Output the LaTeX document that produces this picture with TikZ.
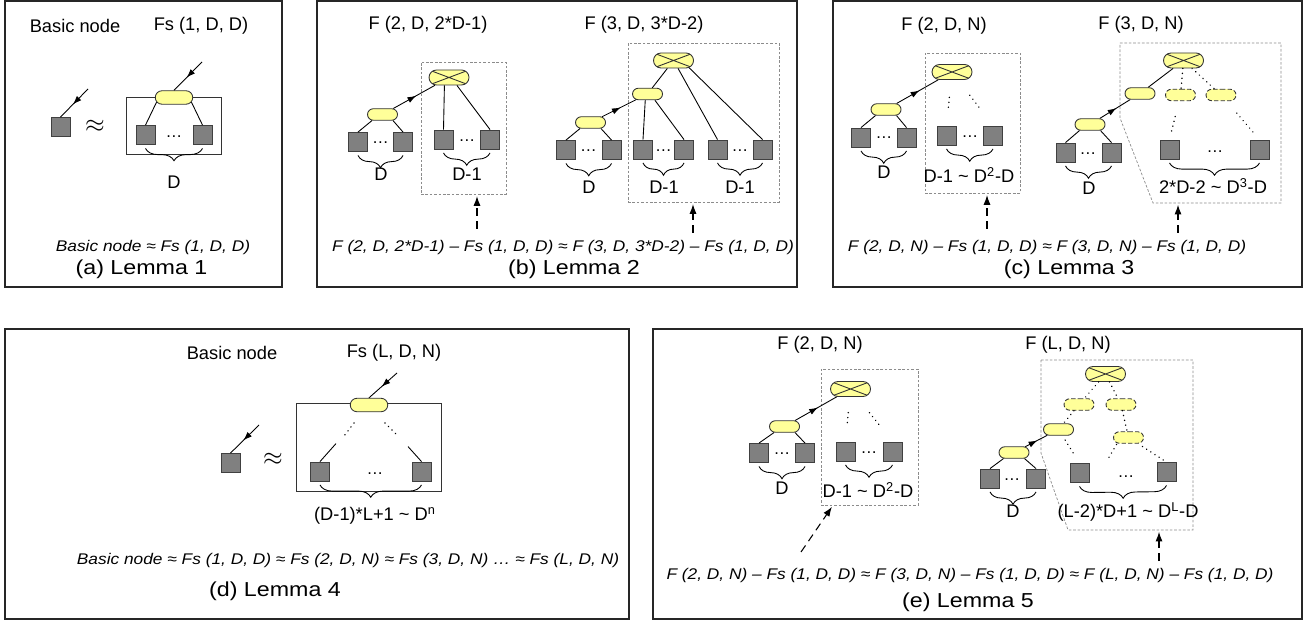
\documentclass[tikz,border=0pt]{standalone}
\usepackage{fontspec}
\setmainfont{Liberation Sans}
\newfontfamily\capfont[FakeStretch=1.15]{Liberation Sans}
\newfontfamily\eqfont[FakeStretch=1.12]{Liberation Sans}
\usepackage{tikz}
\usetikzlibrary{positioning}
\usetikzlibrary{arrows.meta}
\usetikzlibrary{shapes.misc}
\usetikzlibrary{decorations.pathreplacing,decorations.markings}
\usetikzlibrary{fit}
\definecolor{pillyellow}{RGB}{255,255,153}
\definecolor{leafgray}{RGB}{128,128,128}
\tikzset{
  leaf/.style={draw=black!75, fill=leafgray, minimum size=0.38cm, inner sep=0pt},
  pill/.style={rounded rectangle, draw=black!80, fill=pillyellow, minimum width=0.6cm, minimum height=0.23cm, inner sep=0pt},
  bigpill/.style={pill, minimum width=0.75cm, minimum height=0.27cm},
  xpill/.style={pill, minimum width=0.8cm, minimum height=0.3cm,
    path picture={\draw[black!80] (path picture bounding box.north west) -- (path picture bounding box.south east)
      (path picture bounding box.south west) -- (path picture bounding box.north east);}},
  dpill/.style={pill, dash pattern=on 2.5pt off 1.2pt},
  panel/.style={draw=black!85, line width=1pt},
  dbox/.style={draw=black!45, dash pattern=on 1.5pt off 1pt, line width=0.4pt, inner sep=0pt},
  dotln/.style={line width=0.9pt, dash pattern=on 0.01pt off 2.8pt, line cap=round},
  brc/.style={decorate, decoration={brace, mirror, amplitude=7pt}},
  midarr/.style={postaction={decorate}, decoration={markings, mark=at position 0.55 with {\arrow{Latex[length=5pt,width=3.5pt]}}}},
  darr/.style={line width=0.6pt, dash pattern=on 4.5pt off 3pt, -{Latex[length=5.5pt,width=4pt]}, shorten >=1pt},
  lbl/.style={font=\fontsize{10.4}{12}\selectfont},
  dts/.style={font=\fontsize{9.5}{10}\selectfont, inner sep=0pt},
  eqn/.style={font=\eqfont\itshape\fontsize{8.8}{10}\selectfont},
  capn/.style={font=\capfont\fontsize{11.5}{13}\selectfont},
}
\begin{document}
\begin{tikzpicture}[x=0.02cm, y=-0.02cm, line width=0.5pt]
\useasboundingbox (0,0) rectangle (1307,621);
% panels
\draw[panel] (5,1) rectangle (282,287);
\draw[panel] (317,1) rectangle (797,287);
\draw[panel] (833,1) rectangle (1302,287);
\draw[panel] (5,329) rectangle (629,619);
\draw[panel] (653,329) rectangle (1302,619);

% (a) Lemma 1
\node[lbl] (abas) at (75,26) {Basic node};
\node[lbl] (afs) at (201,26) {Fs (1, D, D)};
\node[leaf] (abn) at (60.5,127) {};
\coordinate (abnin) at (88,89);
\draw[midarr] (abnin) -- (abn.north);
\node (aapx) at (95,126) {\fontsize{15}{15}\selectfont$\approx$};
\draw[black!80] (126,97) rectangle (221,154);
\node[bigpill] (ar) at (174,97.5) {};
\coordinate (arin) at (202,62);
\draw[midarr] (arin) -- (ar.north);
\node[leaf] (a1) at (145.5,135) {};
\node[leaf] (a2) at (202.5,135) {};
\node[dts] (adt) at (174,137) {…};
\draw (ar.195) -- (a1.north);
\draw (ar.345) -- (a2.north);
\draw[brc] ([yshift=-2pt]a1.south) -- ([yshift=-2pt]a2.south);
\node[lbl] (aD) at (174,182) {D};
\node[eqn] (aeq) at (153,247) {Basic node ≈ Fs (1, D, D)};
\node[capn] (acap) at (141.5,269) {(a) Lemma 1};

% (b) Lemma 2
\node[lbl] (bt1) at (428,25) {F (2, D, 2*D-1)};
\node[lbl] (bt2) at (644,25) {F (3, D, 3*D-2)};
\node[dbox, fit={(421,62) (506,194)}] (bbox1) {};
\node[xpill] (bx1) at (449,77.5) {};
\node[pill] (bp1) at (382.5,114.5) {};
\draw[midarr] (bp1) -- (bx1);
\node[leaf] (b1) at (358,142) {};
\node[leaf] (b2) at (403,142) {};
\node[dts] (bdt1) at (380.5,143) {…};
\draw (bp1.210) -- (b1.north);
\draw (bp1.330) -- (b2.north);
\draw[brc] ([yshift=-2pt]b1.south) -- ([yshift=-2pt]b2.south);
\node[lbl] (bD1) at (381,174) {D};
\node[leaf] (b3) at (443.5,139.5) {};
\node[leaf] (b4) at (490,139.5) {};
\node[dts] (bdt2) at (467,141) {…};
\draw (bx1.240) -- (b3.north);
\draw (bx1.315) -- (b4.north);
\draw[brc] ([yshift=-2pt]b3.south) -- ([yshift=-2pt]b4.south);
\node[lbl] (bD2) at (467,174) {D-1};

\node[dbox, fit={(628,43) (779,202)}] (bbox2) {};
\node[xpill] (bx2) at (673.5,60.5) {};
\node[pill] (bm2) at (647.5,94) {};
\node[pill] (bp2) at (590.5,122.5) {};
\draw[midarr] (bp2) -- (bm2);
\draw (bm2) -- (bx2);
\node[leaf] (b5) at (566,150) {};
\node[leaf] (b6) at (611.5,150) {};
\node[leaf] (b7) at (643,149.5) {};
\node[leaf] (b8) at (684,149.5) {};
\node[leaf] (b9) at (717.5,149.5) {};
\node[leaf] (b10) at (762.5,149.5) {};
\node[dts] (bdt3) at (588.5,151) {…};
\node[dts] (bdt4) at (663.5,151) {…};
\node[dts] (bdt5) at (740,151) {…};
\draw (bp2.210) -- (b5.north);
\draw (bp2.330) -- (b6.north);
\draw (bm2.250) -- (b7.north);
\draw (bm2.320) -- (b8.north);
\draw (bx2.300) -- (b9.north);
\draw (bx2.335) -- (b10.north);
\foreach \l/\r in {b5/b6,b7/b8,b9/b10}
  \draw[brc] ([yshift=-2pt]\l.south) -- ([yshift=-2pt]\r.south);
\node[lbl] (bD3) at (589,187) {D};
\node[lbl] (bD4) at (664,187) {D-1};
\node[lbl] (bD5) at (740,187) {D-1};
\node[eqn] (beq) at (563,247) {F (2, D, 2*D-1) – Fs (1, D, D) ≈ F (3, D, 3*D-2) – Fs (1, D, D)};
\coordinate (bq1) at (477,229);
\coordinate (bq2) at (693,233);
\draw[darr] (bq1) -- (bq1 |- bbox1.south);
\draw[darr] (bq2) -- (bq2 |- bbox2.south);
\node[capn] (bcap) at (574,269) {(b) Lemma 2};

% (c) Lemma 3
\node[lbl] (ct1) at (944,26) {F (2, D, N)};
\node[lbl] (ct2) at (1141,25) {F (3, D, N)};
\node[dbox, fit={(925,53) (1020,193)}] (cbox1) {};
\node[xpill] (cx1) at (952,72) {};
\node[pill] (cp1) at (886,109.5) {};
\draw[midarr] (cp1) -- (cx1);
\node[leaf] (c1) at (861,137.5) {};
\node[leaf] (c2) at (906.5,137.5) {};
\node[dts] (cdt1) at (884,138) {…};
\draw (cp1.210) -- (c1.north);
\draw (cp1.330) -- (c2.north);
\draw[brc] ([yshift=-2pt]c1.south) -- ([yshift=-2pt]c2.south);
\node[lbl] (cD1) at (884,172) {D};
\node[leaf] (c3) at (946.5,135.5) {};
\node[leaf] (c4) at (993,135.5) {};
\node[dts] (cdt2) at (970,137) {…};
\draw[dotln, shorten <=10pt, shorten >=8pt] (cx1) -- (c3.north);
\draw[dotln, shorten <=11pt, shorten >=12pt] (cx1) -- (c4.north);
\draw[brc] ([yshift=-2pt]c3.south) -- ([yshift=-2pt]c4.south);
\node[lbl] (cD2) at (969,175) {D-1 \textasciitilde{} D\textsuperscript{2}-D};

\coordinate (cpa) at (1120,43);
\coordinate (cpb) at (1281,43);
\coordinate (cpc) at (1281,203);
\coordinate (cpd) at (1153,203);
\coordinate (cpe) at (1120,118);
\draw[dbox] (cpa) -- (cpb) -- (cpc) -- (cpd) -- (cpe) -- cycle;
\node[xpill] (cx2) at (1183.5,60.5) {};
\node[pill] (cm2) at (1140,93.5) {};
\node[dpill] (cd3) at (1180.5,95) {};
\node[dpill] (cd4) at (1221,95) {};
\node[pill] (cp2) at (1090,124.5) {};
\draw[midarr] (cp2) -- (cm2);
\draw (cm2) -- (cx2);
\draw[dotln] (cx2) -- (cd3);
\draw[dotln] (cx2) -- (cd4);
\node[leaf] (c5) at (1065.5,152.5) {};
\node[leaf] (c6) at (1111.5,152.5) {};
\node[dts] (cdt3) at (1088,154) {…};
\draw (cp2.210) -- (c5.north);
\draw (cp2.330) -- (c6.north);
\draw[brc] ([yshift=-2pt]c5.south) -- ([yshift=-2pt]c6.south);
\node[lbl] (cD3) at (1089,188) {D};
\node[leaf] (c7) at (1169.5,149.5) {};
\node[leaf] (c8) at (1259.5,149.5) {};
\node[dts] (cdt4) at (1215,152) {…};
\draw[dotln, shorten <=9pt, shorten >=4pt] (cd3) -- (c7.north);
\draw[dotln, shorten <=9pt, shorten >=4pt] (cd4) -- (c8.north);
\draw[brc] ([yshift=-2pt]c7.south) -- ([yshift=-2pt]c8.south);
\node[lbl] (cD4) at (1213,186) {2*D-2 \textasciitilde{} D\textsuperscript{3}-D};
\node[eqn] (ceq) at (1047,247) {F (2, D, N) – Fs (1, D, D) ≈ F (3, D, N) – Fs (1, D, D)};
\coordinate (cq1) at (987,229);
\coordinate (cq2) at (1178,233);
\draw[darr] (cq1) -- (cq1 |- cbox1.south);
\draw[darr] (cq2) -- (cq2 |- cpd);
\node[capn] (ccap) at (1069,269) {(c) Lemma 3};

% (d) Lemma 4
\node[lbl] (dbas) at (232,353) {Basic node};
\node[lbl] (dfs) at (394,353) {Fs (L, D, N)};
\node[leaf] (dbn) at (230.5,463) {};
\coordinate (dbnin) at (259,425);
\draw[midarr] (dbnin) -- (dbn.north);
\node (dapx) at (273,459) {\fontsize{15}{15}\selectfont$\approx$};
\draw[black!80] (296,403) rectangle (441,491);
\node[bigpill] (dr) at (369,405) {};
\coordinate (drin) at (397,373);
\draw[midarr] (drin) -- (dr.north);
\node[leaf] (d1) at (320,471.5) {};
\node[leaf] (d2) at (421.5,471.5) {};
\node[dts] (ddt) at (375,474) {…};
\draw[dotln] ([shift={(-15,18)}]dr.center) -- ++(-10,13);
\draw[dotln] ([shift={(16,18)}]dr.center) -- ++(13,13);
\draw (d1.north) -- ++(16,-18);
\draw (d2.north) -- ++(-13.5,-15);
\draw[brc] ([yshift=-2pt]d1.south) -- ([yshift=-2pt]d2.south);
\node[lbl] (dD) at (375,516) {(D-1)*L+1 \textasciitilde{} D\textsuperscript{n}};
\node[eqn] (deq) at (348,560) {Basic node ≈ Fs (1, D, D) ≈ Fs (2, D, N) ≈ Fs (3, D, N) … ≈ Fs (L, D, N)};
\node[capn] (dcap) at (275,591) {(d) Lemma 4};

% (e) Lemma 5
\node[lbl] (et1) at (820,345) {F (2, D, N)};
\node[lbl] (et2) at (1068,345) {F (L, D, N)};
\node[dbox, fit={(821,369) (918,505)}] (ebox1) {};
\node[xpill] (ex1) at (850.5,389) {};
\node[pill] (ep1) at (784.5,426.5) {};
\draw[midarr] (ep1) -- (ex1);
\node[leaf] (e1) at (759,453) {};
\node[leaf] (e2) at (805,453) {};
\node[dts] (edt1) at (782,454) {…};
\draw (ep1.210) -- (e1.north);
\draw (ep1.330) -- (e2.north);
\draw[brc] ([yshift=-2pt]e1.south) -- ([yshift=-2pt]e2.south);
\node[lbl] (eD1) at (782,488) {D};
\node[leaf] (e3) at (845.5,451.5) {};
\node[leaf] (e4) at (892.5,451.5) {};
\node[dts] (edt2) at (869,453) {…};
\draw[dotln, shorten <=9pt, shorten >=8.5pt] (ex1) -- (e3.north);
\draw[dotln, shorten <=11.5pt, shorten >=12pt] (ex1) -- (e4.north);
\draw[brc] ([yshift=-2pt]e3.south) -- ([yshift=-2pt]e4.south);
\node[lbl] (eD2) at (868,490) {D-1 \textasciitilde{} D\textsuperscript{2}-D};
\coordinate (eq1) at (801,552);
\draw[darr] (eq1) -- ([xshift=7pt]ebox1.south west);

\coordinate (epa) at (1041,360);
\coordinate (epb) at (1193,360);
\coordinate (epc) at (1193,530);
\coordinate (epd) at (1068,530);
\coordinate (epe) at (1041,453);
\draw[dbox] (epa) -- (epb) -- (epc) -- (epd) -- (epe) -- cycle;
\node[xpill] (ex2) at (1105.5,374) {};
\node[dpill] (ed1) at (1079,404.5) {};
\node[dpill] (ed2) at (1121,404.5) {};
\node[dpill] (ed3) at (1128.5,437.5) {};
\node[pill] (em2) at (1058.5,429.5) {};
\node[pill] (ep2) at (1014,452.5) {};
\draw[midarr] (ep2) -- (em2);
\draw[dotln] (ex2) -- (ed1);
\draw[dotln] (ex2) -- (ed2);
\draw[dotln] (ed1) -- (em2);
\draw[dotln] (ed2) -- (ed3);
\node[leaf] (e5) at (990,478.5) {};
\node[leaf] (e6) at (1036,478.5) {};
\node[leaf] (e7) at (1079.5,473) {};
\node[leaf] (e8) at (1166.5,472) {};
\node[dts] (edt3) at (1012,480) {…};
\node[dts] (edt4) at (1126,477) {…};
\draw (ep2.210) -- (e5.north);
\draw (ep2.330) -- (e6.north);
\draw[dotln, shorten <=3pt, shorten >=5pt] (em2) -- (e7.north);
\draw[dotln] ([shift={(-12,7)}]ed3.center) -- ++(-10,17);
\draw[dotln, shorten <=3pt, shorten >=2pt] (ed3) -- (e8.north);
\draw[brc] ([yshift=-2pt]e5.south) -- ([yshift=-2pt]e6.south);
\draw[brc] ([yshift=-2pt]e7.south) -- ([yshift=-2pt]e8.south);
\node[lbl] (eD3) at (1013,511) {D};
\node[lbl] (eD4) at (1128,512) {(L-2)*D+1 \textasciitilde{} D\textsuperscript{L}-D};
\node[eqn] (eeq) at (970,575) {F (2, D, N) – Fs (1, D, D) ≈ F (3, D, N) – Fs (1, D, D) ≈ F (L, D, N) – Fs (1, D, D)};
\coordinate (eq2) at (1159,561);
\draw[darr] (eq2) -- (eq2 |- epd);
\node[capn] (ecap) at (968,602) {(e) Lemma 5};
\end{tikzpicture}
\end{document}
